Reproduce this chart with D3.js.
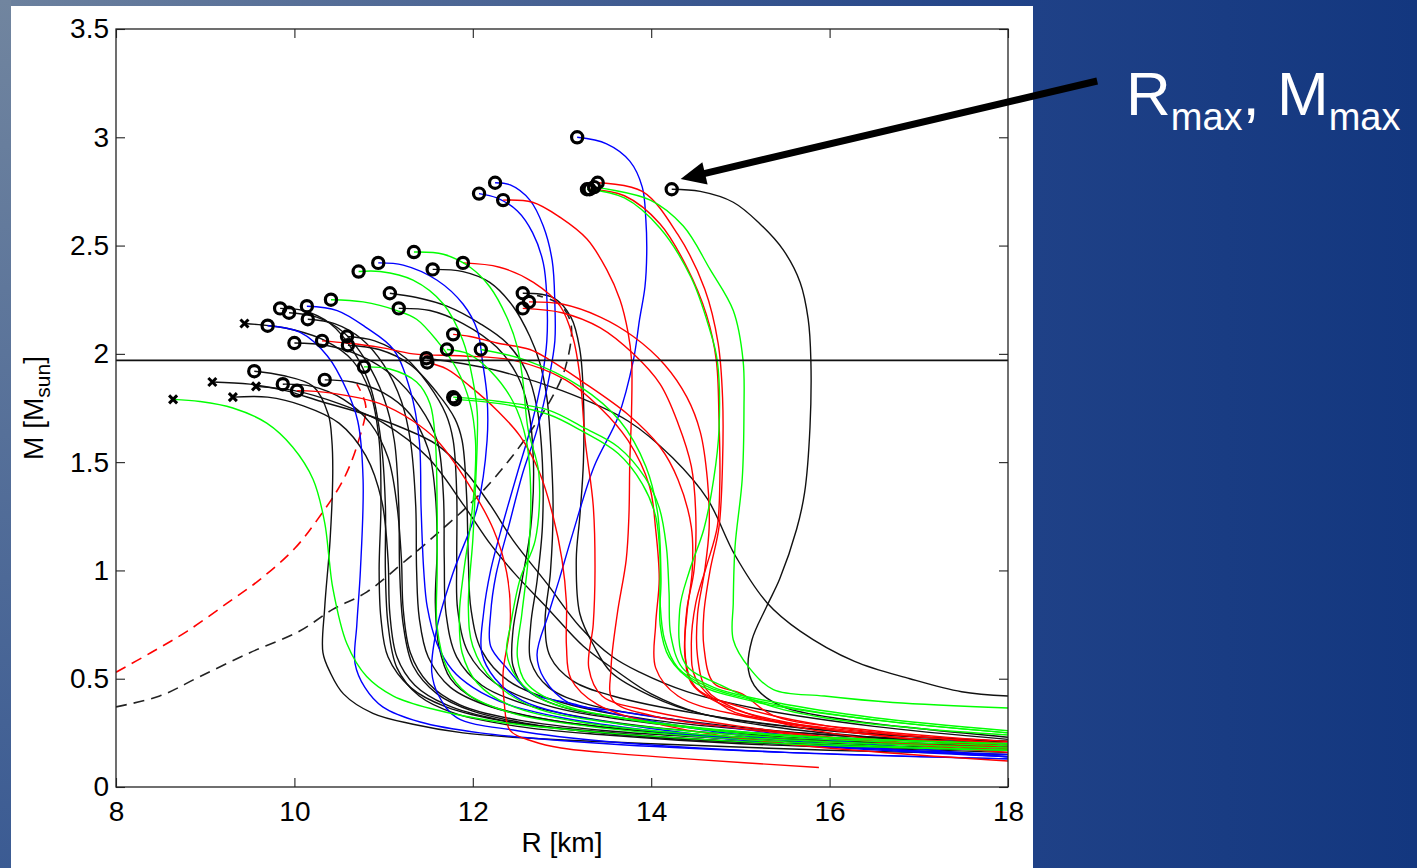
<!DOCTYPE html>
<html><head><meta charset="utf-8">
<script src="https://cdn.jsdelivr.net/npm/d3@7"></script>
<style>html,body{margin:0;padding:0;overflow:hidden;background:#1a3c84}</style>
</head><body><svg id="c" width="1417" height="868"></svg>
<script>
// ---- axes / ticks ----
const xTicks = [8,10,12,14,16,18];
const yTicks = [0,0.5,1,1.5,2,2.5,3,3.5];
const yTickLabels = ["0","0.5","1","1.5","2","2.5","3","3.5"];
const refMass = 1.97;

// ---- black M-R curves [R km, M Msun] ----
const K1 = [[14.23,2.76],[14.55,2.75],[14.92,2.70],[15.22,2.60],[15.48,2.48],[15.67,2.33],[15.76,2.16],[15.79,1.97],[15.78,1.66],[15.72,1.36],[15.63,1.19],[15.44,0.96],[15.29,0.83],[15.13,0.68],[15.09,0.54],[15.19,0.45],[15.48,0.37],[16.2,0.31],[17,0.27],[18,0.23]];
const K2 = [[11.48,1.98],[12.2,1.93],[13.0,1.83],[13.74,1.69],[14.24,1.52],[14.63,1.33],[14.94,1.07],[15.3,0.85],[15.67,0.72],[16.28,0.58],[16.9,0.5],[17.48,0.44],[18,0.42]];
const K3 = [[12.56,2.28],[12.9,2.26],[13.1,2.17],[13.2,2.02],[13.24,1.8],[13.24,1.5],[13.2,1.25],[13.16,1.05],[13.2,0.8],[13.36,0.65],[13.55,0.53],[14.0,0.42],[14.55,0.34],[15.5,0.28],[16.7,0.24],[18,0.21]];
const K4 = [[11.55,2.39],[11.89,2.38],[12.19,2.33],[12.45,2.22],[12.64,2.08],[12.75,1.96],[12.83,1.80],[12.87,1.6],[12.9,1.29],[12.87,0.99],[12.81,0.76],[12.87,0.6],[13.12,0.49],[13.57,0.42],[14.5,0.34],[16,0.26],[18,0.21]];
const K5 = [[11.07,2.28],[11.37,2.26],[11.71,2.22],[12.08,2.14],[12.38,2.05],[12.6,1.92],[12.72,1.75],[12.78,1.5],[12.78,1.2],[12.72,0.95],[12.65,0.75],[12.65,0.58],[12.85,0.46],[13.3,0.38],[14.3,0.31],[16,0.24],[18,0.2]];
const K6 = [[11.17,2.21],[11.52,2.2],[11.89,2.14],[12.27,2.03],[12.5,1.9],[12.62,1.75],[12.68,1.5],[12.65,1.2],[12.55,0.95],[12.45,0.72],[12.45,0.56],[12.6,0.45],[13.0,0.37],[14.0,0.3],[15.5,0.23],[18,0.19]];
const K7 = [[9.84,2.21],[10.1,2.2],[10.4,2.14],[10.65,2.02],[10.85,1.85],[10.97,1.6],[11.02,1.3],[11.02,1.0],[11.05,0.75],[11.15,0.55],[11.4,0.42],[11.8,0.34],[12.5,0.28],[13.5,0.24],[15,0.2],[18,0.16]];
const K8 = [[9.94,2.19],[10.25,2.17],[10.55,2.1],[10.8,1.97],[11.0,1.8],[11.12,1.6],[11.17,1.3],[11.18,1.0],[11.22,0.75],[11.33,0.56],[11.6,0.43],[12.0,0.35],[12.8,0.28],[14,0.23],[16,0.19],[18,0.17]];
const K9 = [[10.15,2.16],[10.45,2.14],[10.75,2.07],[11.0,1.95],[11.2,1.78],[11.3,1.6],[11.36,1.3],[11.37,1.0],[11.4,0.78],[11.5,0.6],[11.75,0.46],[12.2,0.37],[13,0.3],[14.5,0.24],[18,0.18]];
const K10 = [[9.44,2.14],[9.72,2.13],[10.0,2.11],[10.35,2.06],[10.65,1.97],[10.85,1.82],[10.95,1.6],[10.97,1.3],[10.95,1.0],[10.97,0.78],[11.05,0.6],[11.3,0.46],[11.7,0.37],[12.4,0.3],[13.5,0.25],[15.5,0.2],[18,0.17]];
const K11 = [[10.0,2.05],[10.35,2.04],[10.75,1.99],[11.1,1.9],[11.4,1.76],[11.6,1.6],[11.67,1.35],[11.68,1.05],[11.7,0.8],[11.82,0.6],[12.1,0.47],[12.6,0.38],[13.4,0.31],[15,0.24],[18,0.19]];
const K12 = [[10.59,2.08],[10.9,2.06],[11.25,1.98],[11.5,1.86],[11.7,1.72],[11.78,1.6],[11.82,1.35],[11.82,1.05],[11.83,0.82],[11.95,0.62],[12.25,0.48],[12.8,0.38],[13.7,0.31],[15.5,0.24],[18,0.2]];
const K13 = [[10.60,2.04],[10.95,2.02],[11.3,1.95],[11.6,1.82],[11.8,1.7],[11.88,1.6],[11.93,1.35],[11.95,1.05],[11.98,0.82],[12.1,0.63],[12.4,0.49],[13,0.39],[14,0.31],[16,0.24],[18,0.21]];
const K14 = [[9.55,1.92],[9.87,1.90],[10.21,1.85],[10.38,1.72],[10.42,1.6],[10.43,1.45],[10.40,1.14],[10.34,0.83],[10.32,0.62],[10.40,0.53],[10.55,0.43],[10.88,0.34],[11.33,0.29],[11.89,0.25],[12.45,0.23],[14,0.2],[16,0.17],[18,0.15]];
const K15 = [[9.87,1.86],[10.2,1.85],[10.55,1.79],[10.85,1.68],[11.05,1.52],[11.15,1.3],[11.2,1.05],[11.22,0.82],[11.3,0.62],[11.5,0.48],[11.85,0.38],[12.5,0.31],[13.5,0.26],[15.5,0.21],[18,0.17]];
const K16 = [[10.34,1.88],[10.65,1.87],[11.0,1.82],[11.3,1.72],[11.5,1.56],[11.58,1.35],[11.6,1.1],[11.58,0.85],[11.62,0.65],[11.75,0.5],[12.05,0.4],[12.6,0.33],[13.6,0.27],[15.5,0.22],[18,0.18]];
const K17 = [[9.08,1.87],[9.5,1.86],[9.9,1.83],[10.3,1.78],[10.8,1.72],[11.2,1.66],[11.6,1.58],[11.93,1.45],[12.2,1.3],[12.45,1.14],[12.83,0.94],[13.2,0.74],[13.57,0.6],[13.87,0.53],[14.4,0.44],[15.2,0.36],[16.5,0.28],[18,0.22]];
const K18 = [[9.57,1.85],[10.0,1.83],[10.5,1.77],[11.0,1.68],[11.5,1.52],[11.9,1.3],[12.2,1.12],[12.46,0.99],[12.85,0.82],[13.24,0.65],[13.63,0.53],[14.0,0.43],[14.55,0.34],[15.5,0.27],[16.5,0.23],[18,0.19]];
const K19 = [[9.31,1.80],[9.7,1.80],[10.1,1.76],[10.5,1.68],[10.8,1.53],[10.98,1.32],[11.05,1.05],[11.07,0.8],[11.15,0.6],[11.35,0.47],[11.7,0.38],[12.3,0.31],[13.3,0.26],[15,0.21],[18,0.17]];

// ---- red curves ----
const R1 = [[12.34,2.71],[12.67,2.70],[12.98,2.63],[13.28,2.53],[13.5,2.39],[13.65,2.25],[13.74,2.10],[13.78,1.97],[13.78,1.74],[13.76,1.5],[13.75,1.25],[13.72,1.05],[13.62,0.8],[13.55,0.55],[13.57,0.4],[14.0,0.33],[15,0.27],[16.5,0.21],[18,0.18]];
const R2 = [[13.31,2.76],[13.7,2.73],[14.1,2.6],[14.4,2.4],[14.62,2.18],[14.73,1.97],[14.76,1.7],[14.77,1.42],[14.74,1.2],[14.62,1.02],[14.5,0.85],[14.45,0.65],[14.5,0.5],[14.86,0.36],[15.32,0.31],[16.5,0.25],[18,0.2]];
const R3 = [[13.40,2.79],[13.9,2.75],[14.3,2.55],[14.6,2.3],[14.75,2.05],[14.8,1.8],[14.8,1.5],[14.76,1.2],[14.66,1.0],[14.59,0.8],[14.59,0.65],[14.70,0.48],[15.02,0.43],[15.37,0.33],[16.5,0.26],[18,0.21]];
const R4 = [[11.89,2.42],[12.3,2.40],[12.68,2.33],[12.98,2.22],[13.12,2.08],[13.2,1.9],[13.26,1.6],[13.35,1.3],[13.37,1.0],[13.35,0.75],[13.3,0.55],[13.45,0.42],[14.0,0.35],[15,0.28],[16.5,0.21],[18,0.16]];
const R5 = [[10.31,2.06],[10.59,2.05],[10.96,2.03],[11.33,2.0],[11.9,1.99],[12.46,1.97],[13.04,1.88],[13.43,1.75],[13.74,1.6],[13.98,1.39],[14.05,1.19],[14.09,0.96],[14.05,0.75],[14.05,0.55],[14.3,0.42],[15,0.33],[16.5,0.24],[18,0.19]];
const R6 = [[11.49,1.96],[11.71,1.93],[11.97,1.85],[12.27,1.74],[12.53,1.62],[12.75,1.45],[12.9,1.25],[13.0,1.05],[13.05,0.85],[13.05,0.65],[13.1,0.5],[13.4,0.38],[14.2,0.28],[15.5,0.2],[18,0.12]];
const R7 = [[11.78,2.09],[11.97,2.08],[12.27,2.05],[12.64,2.02],[12.87,1.97],[13.2,1.88],[13.74,1.72],[14.1,1.57],[14.3,1.42],[14.45,1.2],[14.46,1.0],[14.4,0.8],[14.38,0.6],[14.5,0.46],[15,0.37],[16,0.28],[18,0.2]];
const R8 = [[12.63,2.24],[13.0,2.23],[13.43,2.17],[13.8,2.08],[14.15,1.95],[14.4,1.8],[14.55,1.64],[14.63,1.42],[14.65,1.2],[14.6,1.0],[14.52,0.8],[14.52,0.6],[14.62,0.45],[14.9,0.37],[15.5,0.29],[16.5,0.22],[18,0.17]];
const R9 = [[12.56,2.21],[13.0,2.19],[13.43,2.12],[13.8,2.0],[14.1,1.86],[14.3,1.68],[14.45,1.48],[14.5,1.25],[14.48,1.0],[14.4,0.82],[14.38,0.62],[14.45,0.48],[14.8,0.38],[15.5,0.3],[16.5,0.24],[18,0.18]];
const R10 = [[10.03,1.83],[10.4,1.82],[10.96,1.77],[11.33,1.69],[11.6,1.6],[11.95,1.4],[12.23,1.19],[12.38,0.99],[12.42,0.76],[12.34,0.53],[12.35,0.4],[12.42,0.26],[12.68,0.21],[12.99,0.18],[13.45,0.16],[14.4,0.13],[15.88,0.09]];

// ---- green curves ----
const G1 = [[13.28,2.76],[13.7,2.72],[14.1,2.58],[14.45,2.35],[14.65,2.12],[14.74,1.97],[14.76,1.65],[14.70,1.42],[14.59,1.19],[14.43,1.0],[14.32,0.82],[14.38,0.57],[14.78,0.47],[15.37,0.37],[15.94,0.32],[17,0.27],[18,0.24]];
const G2 = [[13.36,2.77],[13.99,2.71],[14.36,2.59],[14.66,2.39],[14.92,2.2],[15.03,1.97],[15.04,1.74],[15.02,1.42],[14.94,1.11],[14.92,0.85],[14.92,0.68],[15.1,0.55],[15.37,0.45],[15.94,0.42],[16.71,0.39],[18,0.365]];
const G3 = [[11.34,2.47],[11.67,2.46],[11.97,2.40],[12.19,2.31],[12.38,2.17],[12.5,2.03],[12.56,1.88],[12.62,1.65],[12.74,1.45],[12.7,1.14],[12.53,0.96],[12.42,0.74],[12.38,0.62],[12.5,0.5],[12.8,0.4],[13.5,0.33],[15,0.25],[18,0.2]];
const G4 = [[10.72,2.38],[10.96,2.38],[11.33,2.34],[11.67,2.23],[11.89,2.06],[12.0,1.88],[12.05,1.73],[12.05,1.6],[12.02,1.3],[12.0,1.14],[11.95,0.83],[12.0,0.65],[12.23,0.49],[12.67,0.37],[13.5,0.3],[15,0.24],[18,0.19]];
const G5 = [[10.41,2.25],[10.77,2.24],[11.15,2.20],[11.37,2.16],[11.6,2.06],[11.82,1.93],[11.97,1.77],[12.03,1.6],[12.02,1.4],[11.97,1.2],[11.9,1.0],[11.85,0.8],[11.88,0.62],[12.05,0.48],[12.4,0.38],[13.2,0.3],[15,0.23],[18,0.18]];
const G6 = [[10.78,1.94],[11.07,1.93],[11.37,1.87],[11.52,1.77],[11.58,1.6],[11.6,1.29],[11.6,0.99],[11.6,0.74],[11.71,0.55],[11.94,0.43],[12.45,0.34],[13.3,0.28],[15,0.22],[18,0.17]];
const G7 = [[11.71,2.02],[11.95,2.0],[12.2,1.92],[12.45,1.78],[12.6,1.6],[12.65,1.35],[12.62,1.05],[12.55,0.8],[12.5,0.6],[12.6,0.48],[13.0,0.38],[14,0.3],[15.5,0.24],[18,0.2]];
const G8 = [[12.09,2.02],[12.6,1.97],[13.2,1.85],[13.65,1.69],[13.94,1.48],[14.07,1.27],[14.11,0.96],[14.1,0.75],[14.2,0.6],[14.5,0.48],[15.2,0.39],[16.5,0.31],[18,0.25]];
const G9 = [[11.78,1.80],[12.3,1.78],[12.85,1.74],[13.24,1.66],[13.63,1.57],[13.93,1.43],[14.09,1.29],[14.17,1.11],[14.2,0.9],[14.22,0.7],[14.35,0.55],[14.7,0.46],[15.4,0.39],[16.5,0.32],[18,0.26]];
const G10 = [[11.80,1.79],[12.3,1.77],[12.85,1.72],[13.24,1.64],[13.63,1.54],[13.9,1.40],[14.05,1.25],[14.1,1.05],[14.1,0.85],[14.15,0.68],[14.3,0.55],[14.65,0.46],[15.4,0.38],[16.5,0.31],[18,0.25]];
const G11 = [[8.64,1.79],[8.94,1.78],[9.31,1.75],[9.69,1.68],[9.98,1.57],[10.21,1.42],[10.34,1.22],[10.39,1.05],[10.43,0.92],[10.59,0.66],[10.81,0.51],[11.11,0.42],[11.55,0.36],[12.3,0.30],[13.5,0.25],[15.5,0.2],[18,0.17]];

// ---- blue curves ----
const B1 = [[13.17,3.0],[13.5,2.97],[13.76,2.89],[13.9,2.77],[13.94,2.62],[13.95,2.47],[13.93,2.31],[13.87,2.16],[13.8,1.97],[13.63,1.71],[13.36,1.48],[13.12,1.17],[12.97,0.96],[12.85,0.8],[12.72,0.61],[12.8,0.5],[13.07,0.39],[13.63,0.35],[14.78,0.28],[15.94,0.22],[18,0.14]];
const B2 = [[12.25,2.79],[12.42,2.78],[12.64,2.71],[12.79,2.59],[12.89,2.43],[12.92,2.23],[12.92,2.06],[12.86,1.9],[12.72,1.65],[12.56,1.45],[12.4,1.2],[12.26,0.98],[12.2,0.8],[12.2,0.65],[12.38,0.55],[12.67,0.43],[13.06,0.39],[13.8,0.32],[15,0.24],[16.5,0.18],[18,0.14]];
const B3 = [[12.07,2.74],[12.27,2.72],[12.5,2.66],[12.67,2.56],[12.79,2.42],[12.83,2.26],[12.83,2.06],[12.78,1.9],[12.65,1.66],[12.5,1.45],[12.34,1.22],[12.2,1.0],[12.12,0.8],[12.1,0.62],[12.25,0.5],[12.55,0.4],[13.0,0.34],[14,0.27],[15.5,0.2],[18,0.14]];
const B4 = [[10.94,2.42],[11.22,2.41],[11.6,2.34],[11.89,2.23],[12.05,2.11],[12.11,1.96],[12.16,1.80],[12.16,1.6],[12.05,1.29],[11.78,0.99],[11.6,0.74],[11.54,0.53],[11.62,0.42],[11.82,0.32],[12.5,0.26],[13.5,0.21],[15.5,0.16],[18,0.13]];
const B5 = [[10.14,2.22],[10.48,2.20],[10.81,2.12],[11.11,2.02],[11.30,1.83],[11.40,1.6],[11.42,1.29],[11.45,1.0],[11.49,0.83],[11.60,0.66],[11.77,0.54],[12.0,0.46],[12.4,0.38],[13.0,0.32],[14.0,0.26],[15.5,0.2],[18,0.15]];
const B6 = [[9.70,2.13],[10.06,2.10],[10.37,1.99],[10.59,1.83],[10.71,1.69],[10.77,1.42],[10.74,1.0],[10.70,0.75],[10.68,0.57],[10.79,0.46],[10.99,0.37],[11.41,0.30],[12.08,0.25],[13.5,0.2],[15.5,0.16],[18,0.13]];

// ---- dashed limit curves ----
const dashBlack = [[8.0,0.37],[8.49,0.42],[8.94,0.51],[9.5,0.62],[10.06,0.72],[10.43,0.82],[10.81,0.9],[11.26,1.05],[11.49,1.13],[12.05,1.34],[12.39,1.5],[12.66,1.65],[12.89,1.8],[13.04,1.94],[13.10,2.14],[12.97,2.23],[12.72,2.27]];
const dashRed = [[8.0,0.53],[8.39,0.62],[8.8,0.72],[9.25,0.85],[9.62,0.96],[10.0,1.1],[10.25,1.23],[10.55,1.42],[10.72,1.6],[10.8,1.76],[10.7,1.86]];

const blackCurves = [K1,K2,K3,K4,K5,K6,K7,K8,K9,K10,K11,K12,K13,K14,K15,K16,K17,K18,K19];
const blueCurves = [B1,B2,B3,B4,B5,B6];
const redCurves = [R1,R2,R3,R4,R5,R6,R7,R8,R9,R10];
const greenCurves = [G1,G2,G3,G4,G5,G6,G7,G8,G9,G10,G11];
const crossMarked = [K10,K17,K18,K19,G11];

// annotation (data coords)
const arrowTail = [19.0,3.26];
const arrowTip = [14.33,2.807];

// ---- drawing ----
const W=1417,H=868;
const svg=d3.select('#c');
const defs=svg.append('defs');
const bg=defs.append('linearGradient').attr('id','bg').attr('x1',0).attr('y1',0).attr('x2',1).attr('y2',0);
[[0,'#6c819e'],[0.35,'#4a6494'],[0.73,'#1f4187'],[1,'#13377f']].forEach(([o,c])=>bg.append('stop').attr('offset',o).attr('stop-color',c));
const lg=defs.append('linearGradient').attr('id','lg').attr('x1',0).attr('y1',0).attr('x2',0).attr('y2',1);
[[0,'#71859f'],[1,'#3b5b93']].forEach(([o,c])=>lg.append('stop').attr('offset',o).attr('stop-color',c));
svg.append('rect').attr('width',W).attr('height',H).attr('fill','url(#bg)');
svg.append('rect').attr('width',11).attr('height',H).attr('fill','url(#lg)');
svg.append('rect').attr('x',11).attr('y',6).attr('width',1022).attr('height',H-6).attr('fill','#fff');

const x=d3.scaleLinear().domain([8,18]).range([116,1008]);
const y=d3.scaleLinear().domain([0,3.5]).range([787,29]);
const FONT='"Liberation Sans", Arial, Helvetica, sans-serif';

defs.append('clipPath').attr('id','plot').append('rect')
  .attr('x',x(8)).attr('y',y(3.5)).attr('width',x(18)-x(8)).attr('height',y(0)-y(3.5));

const line=d3.line().x(d=>x(d[0])).y(d=>y(d[1])).curve(d3.curveCatmullRom.alpha(0.5));
const pg=svg.append('g').attr('clip-path','url(#plot)');

// dashed
pg.append('path').attr('d',line(dashBlack)).attr('fill','none').attr('stroke','#222').attr('stroke-width',1.6).attr('stroke-dasharray','11,7');
pg.append('path').attr('d',line(dashRed)).attr('fill','none').attr('stroke','#ff0000').attr('stroke-width',1.6).attr('stroke-dasharray','11,7');

const groups=[[blackCurves,'#111'],[blueCurves,'#0000ff'],[redCurves,'#ff0000'],[greenCurves,'#00ff00']];
groups.forEach(([arr,col])=>{
  pg.selectAll(null).data(arr).enter().append('path')
    .attr('d',d=>line(d)).attr('fill','none').attr('stroke',col).attr('stroke-width',1.4);
});

// reference mass line
svg.append('line').attr('x1',x(8)).attr('x2',x(18)).attr('y1',y(refMass)).attr('y2',y(refMass))
  .attr('stroke','#111').attr('stroke-width',1.8);

// markers
const all=[...blackCurves,...blueCurves,...redCurves,...greenCurves];
const circ=all.filter(c=>!crossMarked.includes(c));
svg.selectAll(null).data(circ).enter().append('circle')
  .attr('cx',d=>x(d[0][0])).attr('cy',d=>y(d[0][1])).attr('r',5.6)
  .attr('fill','none').attr('stroke','#000').attr('stroke-width',3.2);
svg.selectAll(null).data(crossMarked).enter().append('path')
  .attr('d',d=>{const cx=x(d[0][0]),cy=y(d[0][1]),s=4;return `M${cx-s},${cy-s}L${cx+s},${cy+s}M${cx-s},${cy+s}L${cx+s},${cy-s}`;})
  .attr('stroke','#000').attr('stroke-width',3).attr('fill','none');

// axes
function styleAxis(g){g.select('.domain').remove();g.selectAll('line').attr('stroke','#222').attr('stroke-width',1.1);
  g.selectAll('text').attr('font-family',FONT).attr('font-size',28).attr('fill','#000');}
svg.append('g').attr('transform',`translate(0,${y(0)})`)
  .call(d3.axisBottom(x).tickValues(xTicks).tickSize(-9).tickPadding(14).tickFormat(d3.format('d'))).call(styleAxis);
svg.append('g').attr('transform',`translate(0,${y(3.5)})`)
  .call(d3.axisTop(x).tickValues(xTicks).tickSize(-9).tickFormat('')).call(styleAxis);
svg.append('g').attr('transform',`translate(${x(8)},0)`)
  .call(d3.axisLeft(y).tickValues(yTicks).tickSize(-9).tickPadding(7).tickFormat((d,i)=>yTickLabels[i])).call(styleAxis);
svg.append('g').attr('transform',`translate(${x(18)},0)`)
  .call(d3.axisRight(y).tickValues(yTicks).tickSize(-9).tickFormat('')).call(styleAxis);
svg.append('rect').attr('x',x(8)).attr('y',y(3.5)).attr('width',x(18)-x(8)).attr('height',y(0)-y(3.5))
  .attr('fill','none').attr('stroke','#222').attr('stroke-width',1.3);

// axis titles
svg.append('text').attr('x',(x(8)+x(18))/2).attr('y',852).attr('text-anchor','middle')
  .attr('font-family',FONT).attr('font-size',28).attr('fill','#000').text('R [km]');
const yl=svg.append('text').attr('transform',`translate(43,${(y(0)+y(3.5))/2}) rotate(-90)`).attr('text-anchor','middle')
  .attr('font-family',FONT).attr('font-size',28).attr('fill','#000');
yl.append('tspan').text('M [M');
yl.append('tspan').attr('font-size',21).attr('dy',7).text('sun');
yl.append('tspan').attr('dy',-7).text(']');

// annotation arrow
const tx=x(arrowTail[0]),ty=y(arrowTail[1]),px=x(arrowTip[0]),py=y(arrowTip[1]);
const dx=tx-px,dy=ty-py,L=Math.hypot(dx,dy),ux=dx/L,uy=dy/L;
const hl=25,hw=11.5;
const bx=px+ux*hl,by=py+uy*hl;
svg.append('line').attr('x1',tx).attr('y1',ty).attr('x2',bx-ux*2).attr('y2',by-uy*2)
  .attr('stroke','#000').attr('stroke-width',7);
svg.append('path').attr('d',`M${px},${py}L${bx-uy*hw},${by+ux*hw}L${bx+uy*hw},${by-ux*hw}Z`).attr('fill','#000');

const at=svg.append('text').attr('x',1126).attr('y',115).attr('font-family',FONT).attr('font-size',62).attr('fill','#fff');
at.append('tspan').text('R');
at.append('tspan').attr('font-size',38).attr('dy',15).text('max');
at.append('tspan').attr('dy',-15).text(', M');
at.append('tspan').attr('font-size',38).attr('dy',15).text('max');
</script></body></html>
